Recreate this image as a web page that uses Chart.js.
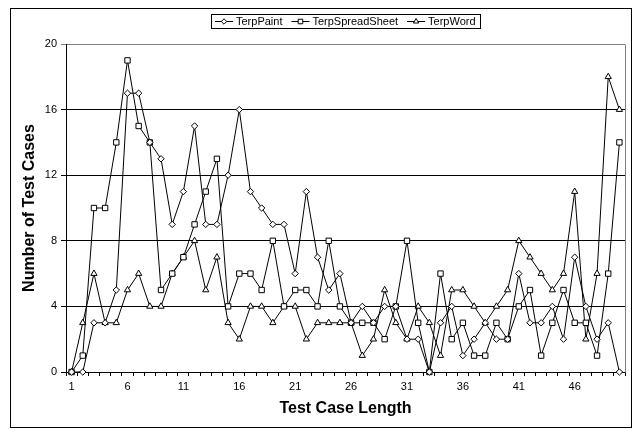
<!DOCTYPE html>
<html>
<head>
<meta charset="utf-8">
<script src="https://cdn.jsdelivr.net/npm/chart.js@4/dist/chart.umd.min.js"></script>
<style>
  html, body { margin: 0; padding: 0; background: #fff; }
  #wrap { width: 634px; height: 429px; }
</style>
</head>
<body>
<div id="wrap"><canvas id="c" width="634" height="429"></canvas></div>
<script>
const categories = [1,2,3,4,5,6,7,8,9,10,11,12,13,14,15,16,17,18,19,20,21,22,23,24,25,26,27,28,29,30,31,32,33,34,35,36,37,38,39,40,41,42,43,44,45,46,47,48,49,50];
const xTickShown = [1,6,11,16,21,26,31,36,41,46];
const yTicks = [0,4,8,12,16,20];
const seriesNames = ['TerpPaint','TerpSpreadSheet','TerpWord'];
const terpPaint = [0,0,3,3,5,17,17,14,13,9, 11,15,9,9,12,16,11,10,9,9, 6,11,7,5,6,3,4,3,4,4, 2,2,0,3,4,1,2,3,2,2, 6,3,3,4,2,7,4,2,3,0];
const terpSpreadSheet = [0,1,10,10,14,19,15,14,5,6, 7,9,11,13,4,6,6,5,8,4, 5,5,4,8,4,3,3,3,2,4, 8,3,0,6,2,3,1,1,3,2, 4,5,1,3,5,3,3,1,6,14];
const terpWord = [0,3,6,3,3,5,6,4,4,6, 7,8,5,7,3,2,4,4,3,4, 4,2,3,3,3,3,1,2,5,3, 2,4,3,1,5,5,4,3,4,5, 8,7,6,5,6,11,2,6,18,16];

const FONT = "'Liberation Sans', Arial, sans-serif";
const styles = [
  { pointStyle: 'rectRot', radius: 3.2 },
  { pointStyle: 'rect', radius: 3.8 },
  { pointStyle: 'triangle', radius: 3.6 }
];

function drawMarker(ctx, style, r, x, y) {
  ctx.save();
  ctx.fillStyle = '#fff';
  ctx.strokeStyle = '#000';
  ctx.lineWidth = 1;
  ctx.beginPath();
  if (style === 'rectRot') {
    ctx.moveTo(x, y - r); ctx.lineTo(x + r, y); ctx.lineTo(x, y + r); ctx.lineTo(x - r, y); ctx.closePath();
  } else if (style === 'rect') {
    const s = r * Math.SQRT1_2;
    ctx.rect(x - s, y - s, 2 * s, 2 * s);
  } else {
    const s = r * Math.sqrt(3) / 2;
    ctx.moveTo(x, y - r); ctx.lineTo(x + s, y + r / 2); ctx.lineTo(x - s, y + r / 2); ctx.closePath();
  }
  ctx.fill(); ctx.stroke();
  ctx.restore();
}

const framePlugin = {
  id: 'frame',
  beforeDraw(chart) {
    const ctx = chart.ctx;
    ctx.save();
    ctx.fillStyle = '#fff';
    ctx.fillRect(0, 0, chart.width, chart.height);
    ctx.strokeStyle = '#000';
    ctx.lineWidth = 1;
    ctx.strokeRect(10.5, 8.5, 621, 419);
    ctx.restore();
  },
  beforeDatasetsDraw(chart) {
    const ctx = chart.ctx, a = chart.chartArea;
    ctx.save();
    ctx.strokeStyle = '#808080';
    ctx.lineWidth = 1;
    ctx.beginPath();
    ctx.moveTo(Math.round(a.right) + 0.5, Math.round(a.top) + 0.5);
    ctx.lineTo(Math.round(a.right) + 0.5, Math.round(a.bottom) + 0.5);
    ctx.stroke();
    ctx.restore();
  },
  afterDraw(chart) {
    const ctx = chart.ctx, a = chart.chartArea;
    ctx.save();
    ctx.font = '11px ' + FONT;
    const symW = 18, gap = 3, itemGap = 9, pad = 4;
    const widths = seriesNames.map(n => ctx.measureText(n).width);
    let total = pad * 2 + itemGap * (seriesNames.length - 1);
    widths.forEach(w => total += symW + gap + w);
    const cx = (a.left + a.right) / 2;
    let x = Math.round(cx - total / 2);
    const top = 14, h = 14, cy = top + h / 2;
    ctx.strokeStyle = '#000';
    ctx.lineWidth = 1;
    ctx.strokeRect(x + 0.5, top + 0.5, Math.round(total), h);
    x += pad;
    seriesNames.forEach((n, i) => {
      ctx.beginPath();
      ctx.moveTo(x, Math.round(cy) + 0.5);
      ctx.lineTo(x + symW, Math.round(cy) + 0.5);
      ctx.strokeStyle = '#000';
      ctx.stroke();
      drawMarker(ctx, styles[i].pointStyle, styles[i].radius * 0.85, x + symW / 2, Math.round(cy) + 0.5);
      x += symW + gap;
      ctx.fillStyle = '#000';
      ctx.textBaseline = 'middle';
      ctx.textAlign = 'left';
      ctx.fillText(n, x, cy + 0.5);
      x += widths[i] + itemGap;
    });
    ctx.restore();
  }
};

const dataSeries = [terpPaint, terpSpreadSheet, terpWord];
const datasets = dataSeries.map((d, i) => ({
  label: seriesNames[i],
  data: d,
  borderColor: '#000',
  borderWidth: 1,
  backgroundColor: '#fff',
  pointBackgroundColor: '#fff',
  pointBorderColor: '#000',
  pointBorderWidth: 1,
  pointStyle: styles[i].pointStyle,
  pointRadius: styles[i].radius,
  pointHoverRadius: styles[i].radius,
  tension: 0,
  fill: false,
  clip: false
}));

new Chart(document.getElementById('c'), {
  type: 'line',
  data: { labels: categories.map(String), datasets },
  options: {
    responsive: false,
    animation: false,
    devicePixelRatio: 1,
    layout: { padding: { top: 44, right: 9, left: 0, bottom: 0 } },
    plugins: { legend: { display: false }, tooltip: { enabled: false } },
    scales: {
      x: {
        type: 'category',
        offset: true,
        afterFit(s) { s.height = 57; },
        grid: { display: true, drawOnChartArea: false, drawTicks: true, tickLength: 4, color: '#000', offset: true },
        border: { display: true, color: '#000', width: 1 },
        ticks: {
          autoSkip: false, maxRotation: 0, minRotation: 0, padding: 4,
          color: '#000', font: { family: FONT, size: 11 },
          callback(v, idx) { const c = categories[idx]; return xTickShown.includes(c) ? String(c) : ''; }
        },
        title: { display: true, text: 'Test Case Length', color: '#000', font: { family: FONT, size: 16, weight: 'bold' }, padding: { top: 0, bottom: 11 } }
      },
      y: {
        min: 0, max: 20,
        afterFit(s) { s.width = 66; },
        afterBuildTicks(s) { s.ticks = yTicks.map(v => ({ value: v })); },
        grid: {
          drawTicks: true, tickLength: 5,
          color(c) { return c.tick && c.tick.value === 20 ? '#808080' : '#000'; }
        },
        border: { display: true, color: '#000', width: 1 },
        ticks: { padding: 4, color: '#000', font: { family: FONT, size: 11 } },
        title: { display: true, text: 'Number of Test Cases', color: '#000', font: { family: FONT, size: 16, weight: 'bold' }, padding: { top: 20, bottom: 0 } }
      }
    }
  },
  plugins: [framePlugin]
});
</script>
</body>
</html>
